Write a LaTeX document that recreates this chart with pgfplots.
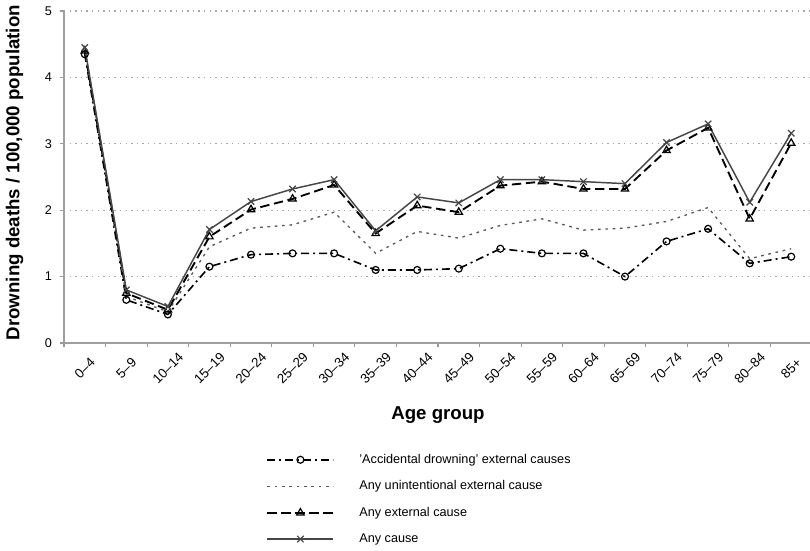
\documentclass[border=0pt]{standalone}
\usepackage{fontspec}
\setmainfont{Liberation Sans}
\usepackage{pgfplots}
\pgfplotsset{compat=1.18}
\usetikzlibrary{calc}

\begin{document}
\begin{tikzpicture}
\begin{axis}[
  name=ax,
  scale only axis,
  width=561pt, height=249pt,
  xmin=-0.5, xmax=17.5, ymin=0, ymax=5,
  axis x line*=bottom, axis y line*=left,
  axis line style={draw=gray!75, line width=1.3pt, -},
  xtick={-0.5,0.5,...,17.5},
  x tick label as interval,
  xticklabels={0--4,5--9,10--14,15--19,20--24,25--29,30--34,35--39,40--44,45--49,50--54,55--59,60--64,65--69,70--74,75--79,80--84,85+},
  xticklabel style={yshift=-16pt, rotate=45, anchor=center, font=\fontsize{10}{11}\selectfont},
  ytick={0,1,2,3,4,5},
  yticklabel style={font=\fontsize{9.5}{10}\selectfont, xshift=-2.5pt},
  /pgf/number format/assume math mode=true,
  tick align=outside,
  major tick length=3pt,
  tick style={draw=gray!80, line width=0.8pt},
  ymajorgrids,
  major grid style={draw=gray!70, line width=1pt, dash pattern=on 1pt off 3.2pt},
  ylabel={\textbf{Drowning deaths / 100,000 population}},
  ylabel style={at={(axis description cs:-0.066,0.513)}, anchor=center, font=\fontsize{14}{16}\selectfont},
  xlabel={\textbf{Age group}},
  xlabel style={at={(axis description cs:0.5,0)}, anchor=center, yshift=-54pt, font=\fontsize{14}{16}\selectfont},
  legend style={at={(0.265,-0.318)}, anchor=north west, draw=none, fill=none,
    font=\fontsize{9.5}{11}\selectfont, row sep=7.5pt, cells={anchor=west}},
  legend image code/.code={%
    \draw[mark repeat=2, mark phase=2, #1] plot coordinates {(0cm,0cm) (0.87cm,0cm) (1.74cm,0cm)};
    \path (2.33cm,0cm);},
  clip=false,
]
\coordinate (O) at (rel axis cs:0,0);
\addplot[black, line width=1.2pt, dash pattern=on 6pt off 3pt on 1.5pt off 3pt,
  mark=o, mark size=2.6pt, mark options={solid, fill=white, line width=0.9pt}]
  coordinates {(0,4.35) (1,0.65) (2,0.43) (3,1.15) (4,1.33) (5,1.35) (6,1.35) (7,1.10) (8,1.10) (9,1.12) (10,1.42) (11,1.35) (12,1.35) (13,1.00) (14,1.53) (15,1.72) (16,1.20) (17,1.30)};
\addlegendentry{'Accidental drowning' external causes}
\addplot[gray!70!black, line width=1pt, dash pattern=on 2pt off 3.5pt]
  coordinates {(0,4.40) (1,0.70) (2,0.47) (3,1.45) (4,1.73) (5,1.78) (6,1.97) (7,1.35) (8,1.68) (9,1.58) (10,1.77) (11,1.87) (12,1.70) (13,1.73) (14,1.83) (15,2.04) (16,1.27) (17,1.42)};
\addlegendentry{Any unintentional external cause}
\addplot[black, line width=1.4pt, dash pattern=on 7pt off 3.5pt,
  mark=triangle, mark size=3.2pt, mark options={solid, fill=white, line width=0.9pt}]
  coordinates {(0,4.40) (1,0.75) (2,0.50) (3,1.60) (4,2.01) (5,2.17) (6,2.38) (7,1.65) (8,2.07) (9,1.97) (10,2.37) (11,2.43) (12,2.32) (13,2.32) (14,2.90) (15,3.24) (16,1.87) (17,3.01)};
\addlegendentry{Any external cause}
\addplot[gray!55!black, line width=1.1pt, solid,
  mark=x, mark size=3.4pt, mark options={solid, line width=0.9pt}]
  coordinates {(0,4.45) (1,0.80) (2,0.55) (3,1.71) (4,2.13) (5,2.32) (6,2.46) (7,1.69) (8,2.20) (9,2.11) (10,2.46) (11,2.46) (12,2.43) (13,2.40) (14,3.02) (15,3.30) (16,2.12) (17,3.16)};
\addlegendentry{Any cause}
\end{axis}
\pgfresetboundingbox
\path[use as bounding box] ($(O)+(-48pt,-155.25pt)$) rectangle ($(O)+(559.5pt,257.25pt)$);
\end{tikzpicture}
\end{document}
